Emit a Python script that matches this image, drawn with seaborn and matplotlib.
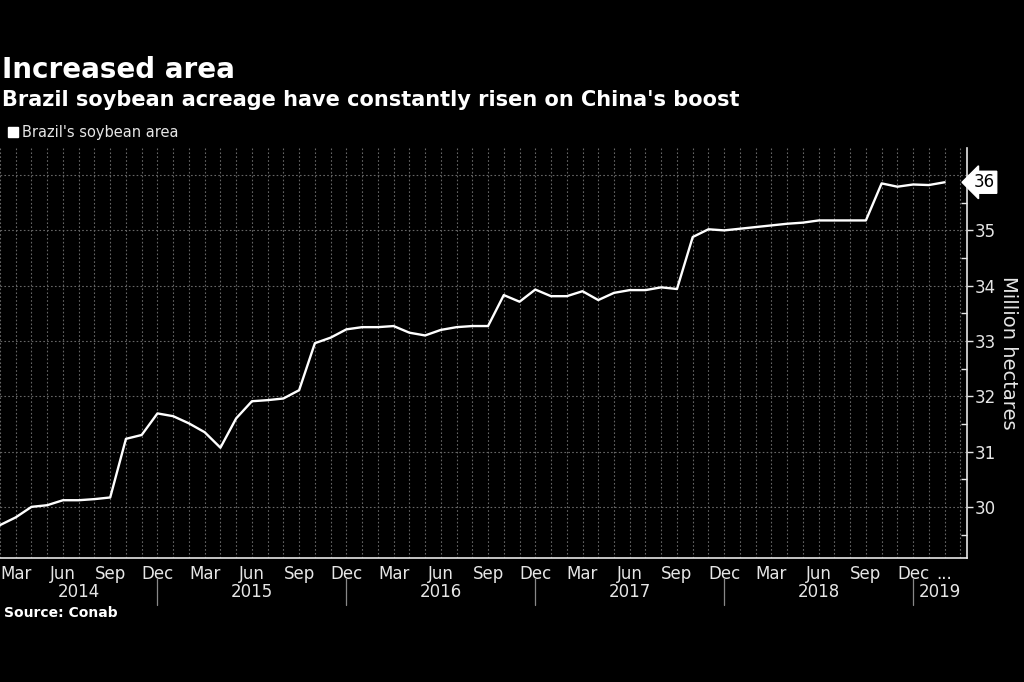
import numpy as np
import pandas as pd
import matplotlib
matplotlib.use("Agg")
import matplotlib.pyplot as plt
import matplotlib.transforms as mtransforms
from matplotlib.lines import Line2D
import seaborn as sns

# ---------------- data ----------------
start_month = "2014-02-01"
area = [29.67, 29.81, 30.00, 30.03, 30.12, 30.12, 30.14, 30.17, 31.23, 31.30,
        31.69, 31.64, 31.51, 31.35, 31.07, 31.60, 31.91, 31.93, 31.96, 32.11,
        32.96, 33.06, 33.21, 33.25, 33.25, 33.27, 33.15, 33.10, 33.20, 33.25,
        33.27, 33.27, 33.83, 33.71, 33.93, 33.81, 33.81, 33.90, 33.74, 33.87,
        33.92, 33.92, 33.97, 33.94, 34.88, 35.02, 35.00, 35.03, 35.06, 35.09,
        35.12, 35.14, 35.18, 35.18, 35.18, 35.18, 35.85, 35.79, 35.83, 35.82,
        35.87]
series_name = "Brazil's soybean area"
month_tick_idx = list(range(1, 59, 3)) + [60]
month_tick_labels = ["Mar", "Jun", "Sep", "Dec"] * 5 + ["..."]
year_sep_idx = [10, 22, 34, 46, 58]
year_labels = ["2014", "2015", "2016", "2017", "2018", "2019"]
y_ticks = [30, 31, 32, 33, 34, 35, 36]
y_tick_labels = ["30", "31", "32", "33", "34", "35", ""]

months = pd.date_range(start_month, periods=len(area), freq="MS")
df = pd.DataFrame({"idx": np.arange(len(area)), "month": months, "area": area})

# ---------------- style ----------------
sns.set_theme(style="dark")
plt.rcParams["font.family"] = ["DejaVu Sans"]
BG = "black"
FG = "#e6e6e6"
GRID = "#666666"

fig = plt.figure(figsize=(10.24, 6.82), dpi=100, facecolor=BG)
ax = fig.add_axes([0.0, 0.1814, 0.944, 0.6016])
ax.set_facecolor(BG)

sns.lineplot(data=df, x="idx", y="area", ax=ax, color="white", linewidth=1.7,
             legend=False)

xmax = 61.4
ax.set_xlim(0, xmax)
ax.set_ylim(29.07, 36.49)

# grid
ax.grid(False)
for xv in np.arange(0, len(area) + 1):
    ax.axvline(xv, color=GRID, lw=0.8, ls=(0, (1.5, 2)), zorder=1)
for yv in y_ticks:
    ax.axhline(yv, color=GRID, lw=0.8, ls=(0, (1.5, 2)), zorder=1)

ax.set_yticks(y_ticks)
ax.set_yticklabels(y_tick_labels)
ax.set_yticks(np.arange(29.5, 36.5, 1.0), minor=True)
ax.set_xticks(month_tick_idx)
ax.set_xticklabels(month_tick_labels)

# y axis on the right
ax.yaxis.tick_right()
ax.yaxis.set_label_position("right")
ax.tick_params(axis="y", which="major", direction="out", length=4, width=1,
               colors=FG, labelsize=12, pad=2, left=False, right=True)
ax.tick_params(axis="y", which="minor", direction="in", length=4, width=1,
               color=FG, left=False, right=True)
ax.tick_params(axis="x", which="major", length=0, colors=FG, labelsize=12, pad=5)
ax.tick_params(axis="x", which="minor", length=0)
ax.set_xlabel("")
ylab = ax.set_ylabel("Million hectares", color=FG, fontsize=14, rotation=270)
ax.yaxis.set_label_coords(1009 / 966.7, 0.5)
ylab.set_ha("center")
ylab.set_va("center")

for side in ["top", "left"]:
    ax.spines[side].set_visible(False)
for side in ["right", "bottom"]:
    ax.spines[side].set_visible(True)
    ax.spines[side].set_color(FG)
    ax.spines[side].set_linewidth(1.2)

# year labels and separators
trans = mtransforms.blended_transform_factory(ax.transData, ax.transAxes)
bounds = [0] + year_sep_idx + [xmax]
for i, lab in enumerate(year_labels):
    c = (bounds[i] + bounds[i + 1]) / 2
    ax.text(c, -0.083, lab, transform=trans, ha="center", va="center",
            color=FG, fontsize=12)
for s in year_sep_idx:
    ax.plot([s, s], [-0.048, -0.115], transform=trans, color="#888888",
            lw=0.9, clip_on=False)

# last value tag
last = area[-1]
ax.annotate(f"{last:.0f}", xy=(1.0, last),
            xycoords=mtransforms.blended_transform_factory(ax.transAxes, ax.transData),
            xytext=(5, 0), textcoords="offset points", ha="left", va="center",
            fontsize=12, color="black", zorder=10, annotation_clip=False,
            bbox=dict(boxstyle="larrow,pad=0.12", fc="white", ec="white"))

# legend
handle = Line2D([0], [0], marker="s", color="white", linestyle="none",
                markersize=7)
leg = fig.legend([handle], [series_name], loc="center left",
                 bbox_to_anchor=(0.0, 1 - 133 / 682), frameon=False,
                 fontsize=10.5, handletextpad=0.1, handlelength=1.0,
                 borderaxespad=0)
for t in leg.get_texts():
    t.set_color(FG)

# titles
fig.text(0.002, 1 - 70 / 682, "Increased area", color="white", fontsize=20,
         fontweight="bold", ha="left", va="center")
fig.text(0.002, 1 - 100 / 682,
         "Brazil soybean acreage have constantly risen on China's boost",
         color="white", fontsize=15, fontweight="bold", ha="left", va="center")
fig.text(0.004, 1 - 613 / 682, "Source: Conab", color="white", fontsize=10,
         fontweight="bold", ha="left", va="center")

fig.savefig("out.png", dpi=100, facecolor=BG)
